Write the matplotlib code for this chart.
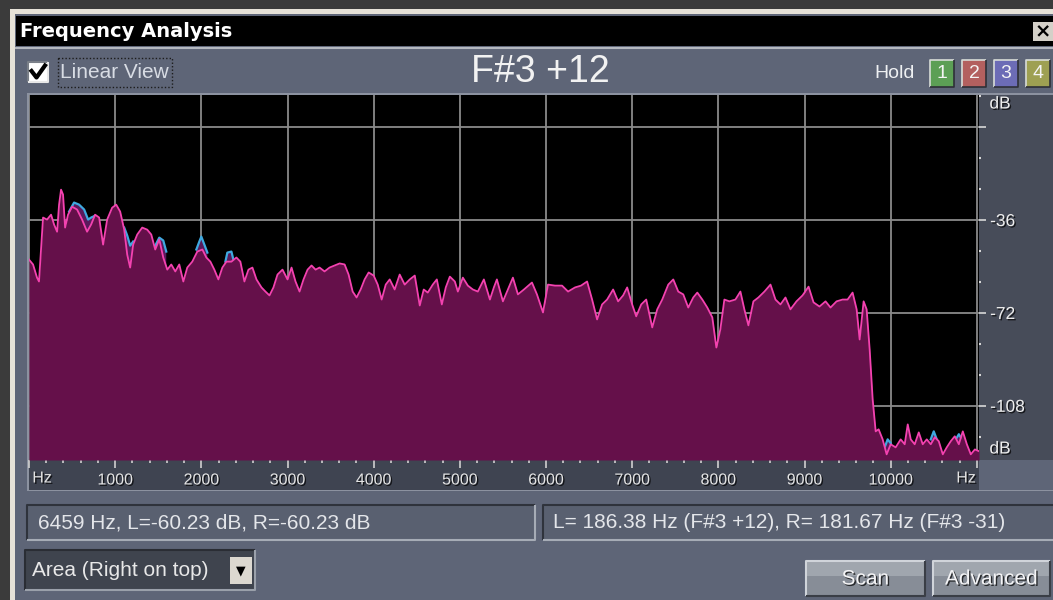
import matplotlib
matplotlib.use('Agg')
import matplotlib.pyplot as plt
import matplotlib.patheffects as pe
from matplotlib.patches import Rectangle
import numpy as np

plt.rcParams['font.family'] = ['Liberation Sans', 'DejaVu Sans']

nan = float('nan')

# right channel spectrum (Hz, dB), drawn as area on top
right_hz = [0, 47, 93, 116, 140, 163, 209, 256, 291, 326,
            349, 372, 395, 419, 453, 500, 558, 616, 674, 721,
            767, 814, 860, 907, 965, 1012, 1058, 1105, 1140, 1174,
            1209, 1256, 1314, 1372, 1419, 1465, 1512, 1558, 1605, 1651,
            1698, 1744, 1791, 1837, 1895, 1953, 2012, 2058, 2105, 2151,
            2198, 2244, 2291, 2349, 2407, 2453, 2500, 2547, 2593, 2640,
            2698, 2744, 2791, 2837, 2884, 2942, 3000, 3047, 3093, 3140,
            3186, 3233, 3279, 3326, 3372, 3430, 3488, 3547, 3605, 3663,
            3709, 3756, 3802, 3849, 3895, 3942, 4000, 4047, 4093, 4140,
            4186, 4244, 4302, 4360, 4419, 4477, 4535, 4581, 4628, 4686,
            4733, 4791, 4837, 4884, 4942, 4977, 5035, 5093, 5151, 5209,
            5279, 5349, 5395, 5430, 5500, 5558, 5616, 5674, 5744, 5837,
            5895, 5965, 6023, 6105, 6186, 6256, 6337, 6407, 6477, 6535,
            6593, 6651, 6709, 6779, 6837, 6895, 6942, 7000, 7047, 7105,
            7163, 7233, 7291, 7349, 7419, 7477, 7535, 7593, 7651, 7709,
            7756, 7814, 7872, 7930, 7977, 8023, 8070, 8128, 8198, 8256,
            8302, 8349, 8407, 8465, 8535, 8605, 8663, 8721, 8779, 8837,
            8907, 8977, 9047, 9105, 9174, 9244, 9302, 9372, 9442, 9500,
            9558, 9605, 9640, 9686, 9721, 9756, 9791, 9826, 9860, 9907,
            9953, 10000, 10058, 10116, 10163, 10198, 10233, 10279, 10326, 10372,
            10419, 10465, 10512, 10558, 10605, 10651, 10698, 10744, 10791, 10837,
            10884, 10930, 10977, 11025]
right_db = [-51.3, -53.2, -58.3, -59.8, -47.4, -35.0, -35.8, -33.9, -37.7, -40.5,
            -30.0, -24.2, -26.1, -38.9, -33.9, -30.8, -31.9, -35.8, -40.5, -37.7,
            -33.9, -35.0, -45.5, -35.8, -31.2, -30.0, -32.7, -39.7, -49.4, -54.4,
            -45.5, -41.6, -38.9, -39.7, -41.6, -47.4, -43.5, -50.5, -55.2, -53.2,
            -55.9, -53.2, -59.8, -54.4, -52.1, -48.2, -47.4, -50.5, -52.1, -55.2,
            -59.0, -54.4, -52.1, -52.1, -50.5, -52.1, -59.8, -55.2, -54.4, -59.0,
            -62.1, -63.7, -65.2, -62.1, -57.1, -55.2, -59.0, -54.4, -59.8, -63.7,
            -59.0, -55.2, -53.6, -55.2, -54.4, -55.9, -54.4, -53.6, -52.8, -53.2,
            -57.1, -63.7, -66.0, -62.9, -59.0, -56.3, -57.5, -61.0, -66.8, -61.0,
            -59.0, -62.9, -57.1, -61.0, -59.0, -57.5, -69.1, -62.9, -64.1, -61.0,
            -59.0, -68.7, -62.1, -57.9, -59.8, -63.7, -58.3, -61.4, -62.9, -63.7,
            -59.0, -66.8, -62.1, -59.0, -67.5, -62.9, -58.3, -64.8, -62.9, -60.2,
            -64.8, -71.8, -61.0, -61.4, -61.4, -63.7, -62.1, -61.4, -59.8, -66.8,
            -74.5, -68.7, -66.8, -62.9, -67.5, -65.2, -62.1, -68.7, -73.3, -68.7,
            -66.8, -77.6, -70.6, -66.8, -61.0, -59.0, -63.7, -64.8, -69.9, -66.0,
            -64.1, -66.8, -69.9, -73.7, -85.4, -78.4, -66.8, -67.5, -66.8, -63.7,
            -70.6, -76.8, -67.5, -66.0, -63.7, -61.0, -66.8, -68.7, -66.0, -70.6,
            -67.5, -65.2, -61.8, -67.9, -69.5, -67.5, -69.9, -67.5, -66.8, -66.8,
            -64.1, -70.6, -82.3, -67.5, -70.6, -86.1, -105.5, -117.9, -117.1, -121.0,
            -126.8, -122.9, -124.1, -121.0, -122.9, -115.2, -121.0, -122.9, -118.3, -122.9,
            -121.0, -122.9, -120.2, -121.7, -126.8, -124.1, -121.7, -119.8, -122.9, -117.9,
            -122.9, -126.8, -124.9, -125.6]

# left channel, only the stretches where it shows above the right one
left_hz = [465, 523, 581, 640, 686, 721, 767, nan,
           1105, 1140, 1174, 1209, nan,
           1465, 1512, 1558, 1593, nan,
           1942, 1977, 2000, 2035, 2070, nan,
           2279, 2302, 2349, 2372, nan,
           9930, 9965, 10000, nan,
           10465, 10500, 10535, nan,
           10756, 10791, 10826]
left_db = [-32.7, -29.2, -30.0, -31.9, -35.8, -35.0, -34.3, nan,
           -38.9, -42.0, -45.9, -44.3, nan,
           -45.9, -42.8, -43.9, -48.2, nan,
           -47.4, -44.3, -42.4, -45.5, -48.6, nan,
           -52.1, -48.6, -48.2, -51.3, nan,
           -124.1, -121.0, -122.5, nan,
           -121.0, -117.9, -121.0, nan,
           -121.0, -119.0, -121.0]

freq_ticks = list(range(0, 11001, 1000))
freq_labels = [''] + [str(f) for f in range(1000, 10001, 1000)] + ['']
db_ticks = [0, -36, -72, -108]
db_labels = ['', '-36', '-72', '-108']

W, H = 1053, 600
fig = plt.figure(figsize=(W / 100, H / 100), dpi=100)
fig.patch.set_facecolor('#3b3b3b')

ui = fig.add_axes([0, 0, 1, 1])
ui.set_xlim(0, W)
ui.set_ylim(H, 0)
ui.axis('off')

shadow = [pe.withSimplePatchShadow(offset=(1, -1), shadow_rgbFace='black', alpha=0.7)]


def box(x0, y0, x1, y1, fc, ec='none', lw=0, ls='-', z=1):
    ui.add_patch(Rectangle((x0, y0), x1 - x0, y1 - y0, facecolor=fc,
                           edgecolor=ec, linewidth=lw, linestyle=ls, zorder=z))


def bevel(x0, y0, x1, y1, tl, br, lw=1.5, z=2):
    ui.plot([x0, x0, x1], [y1, y0, y0], color=tl, lw=lw, zorder=z, solid_capstyle='butt')
    ui.plot([x0, x1, x1], [y1, y1, y0], color=br, lw=lw, zorder=z, solid_capstyle='butt')


panel = '#5e6577'
txt = '#e4e6ea'

# window frame
box(10, 9, W + 5, H + 5, '#e6e2d8')
box(15, 14, W + 5, H + 5, panel)
box(16, 16, W + 5, 46, 'black')
ui.plot([16, W], [47.5, 47.5], color='#b4b8c0', lw=1.5, zorder=2)
ui.text(20, 31.5, 'Frequency Analysis', color='white', fontsize=14,
        fontweight='bold', family='DejaVu Sans', va='center', zorder=3)
box(1033, 22, W + 5, 41, '#d4d0c8', z=3)
ui.text(1043, 31.5, '\u00d7', color='black', fontsize=14, fontweight='bold',
        ha='center', va='center', zorder=4, family='DejaVu Sans')

# checkbox and focus rectangle
box(28, 62, 48, 82, 'white', z=3)
bevel(28, 62, 48, 82, '#7a7f88', '#e8e8e8', lw=1.5, z=3.5)
ui.plot([31.5, 36.5, 45], [71, 77.5, 65.5], color='black', lw=3, zorder=4)
box(58, 58, 172, 87, 'none', ec='#1c1c1c', lw=1, ls=(0, (1, 1.5)), z=3)
ui.text(60, 72.5, 'Linear View', color='#d8dce4', fontsize=15, va='center', zorder=3)

ui.text(540, 72, 'F#3 +12', color='#f2f2f2', fontsize=27, ha='center', va='center', zorder=3)

# hold buttons
ui.text(915, 74, 'Hold', color='#eef0f2', fontsize=14, ha='right', va='center', zorder=3)
hold_cols = ['#5c9f55', '#b3605f', '#6c6cb6', '#9ea052']
for i, (x0, c) in enumerate(zip([930, 962, 994, 1026], hold_cols)):
    box(x0, 60, x0 + 24, 87, c, z=3)
    bevel(x0, 60, x0 + 24, 87, '#d8dcd8', '#2e3038', lw=1.2, z=4)
    ui.text(x0 + 12, 74, str(i + 1), color='#f4f4f4', fontsize=14,
            ha='center', va='center', zorder=5)

# graph frame, axis panels
box(27, 93, W + 5, 491, '#8c92a0')
box(979, 95, W + 5, 460, '#474c59', z=1.5)
box(29, 460, 979, 490, '#3f4451', z=1.5)
box(979, 460, W + 5, 490, panel, z=1.5)

# status boxes
box(27, 505, 535, 540, '#596070', z=2)
bevel(27, 505, 535, 540, '#2f333c', '#a6acb6')
ui.text(38, 523, '6459 Hz, L=-60.23 dB, R=-60.23 dB', color=txt, fontsize=15,
        va='center', zorder=3)
box(543, 505, W + 5, 540, '#596070', z=2)
bevel(543, 505, W + 5, 540, '#2f333c', '#a6acb6')
ui.text(553, 523, 'L= 186.38 Hz (F#3 +12), R= 181.67 Hz (F#3 -31)', color=txt,
        fontsize=15, va='center', zorder=3)

# dropdown
box(25, 550, 255, 590, '#3f444e', z=2)
bevel(25, 550, 255, 590, '#2a2d34', '#9aa0aa')
ui.text(32, 571, 'Area (Right on top)', color='#e8e8e8', fontsize=15, va='center', zorder=3)
box(230, 557, 252, 584, '#dcd8d0', z=3)
ui.text(241, 571, '\u25bc', color='black', fontsize=9, ha='center', va='center',
        zorder=4, family='DejaVu Sans')

# buttons
for x0, x1, label in [(806, 925, 'Scan'), (933, 1050, 'Advanced')]:
    box(x0, 561, x1, 596, '#878d97', z=2)
    box(x0, 561, x1, 576, '#a0a6ae', z=2)
    bevel(x0, 561, x1, 596, '#d0d4da', '#3a3e46')
    ui.text((x0 + x1) / 2, 579, label, color='#f4f4f6', fontsize=15,
            ha='center', va='center', zorder=4, path_effects=shadow)

# spectrum plot
ax = fig.add_axes([29 / W, 1 - 460 / H, 950 / W, 365 / H])
ax.set_facecolor('black')
ax.set_xlim(0, 11025)
ax.set_ylim(-129, 12.5)

ax.fill_between(left_hz, left_db, -129, color='#5a1a5c', lw=0, zorder=1)
ax.plot(left_hz, left_db, color='#3fa9e0', lw=1.6, zorder=2)
ax.fill_between(right_hz, right_db, -129, color='#65104a', lw=0, zorder=3)
ax.plot(right_hz, right_db, color='#f442b0', lw=1.3, zorder=4)

ax.set_axisbelow(True)
ax.grid(True, which='major', color='#8a8a8a', lw=1.3)
for s in ax.spines.values():
    s.set_visible(False)

ax.set_xticks(freq_ticks)
ax.set_xticklabels(freq_labels)
ax.set_xticks(np.arange(0, 11025, 200), minor=True)
ax.tick_params(axis='x', which='major', direction='out', length=6, width=1.2,
               color='#d0d0d0', labelcolor='#e4e4e4', labelsize=11.5, pad=3)
ax.tick_params(axis='x', which='minor', direction='out', length=2, width=1.2,
               color='#d0d0d0')

ax.yaxis.tick_right()
ax.set_yticks(db_ticks)
ax.set_yticklabels(db_labels)
ax.set_yticks(np.arange(12, -129, -12), minor=True)
ax.tick_params(axis='y', which='major', direction='out', length=5, width=1.2,
               color='#d8d8d8', labelcolor='#eeeeee', labelsize=12.5, pad=3)
ax.tick_params(axis='y', which='minor', direction='out', length=1.5, width=1.5,
               color='#d8d8d8')
for lbl in ax.get_xticklabels() + ax.get_yticklabels():
    lbl.set_path_effects(shadow)

for x, y, s in [(42, 478, 'Hz'), (966, 478, 'Hz')]:
    ui.text(x, y, s, color='#e4e4e4', fontsize=11.5, ha='center', va='center',
            zorder=3, path_effects=shadow)
for x, y in [(1000, 104), (1000, 449)]:
    ui.text(x, y, 'dB', color='#eeeeee', fontsize=12.5, ha='center', va='center',
            zorder=3, path_effects=shadow)

fig.savefig('out.png', dpi=100, facecolor=fig.get_facecolor())
